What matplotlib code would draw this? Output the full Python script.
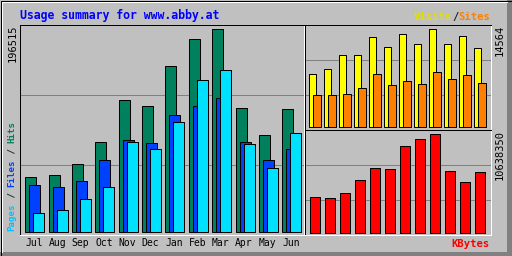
import matplotlib
matplotlib.use("Agg")
import matplotlib.pyplot as plt
from matplotlib.patches import Rectangle

# Дані
months = ["Jul", "Aug", "Sep", "Oct", "Nov", "Dec", "Jan", "Feb", "Mar", "Apr", "May", "Jun"]
hits = [53380, 55310, 65950, 87220, 128130, 122040, 160720, 186820, 196515, 120100, 93990, 119130]
files = [45640, 44290, 49510, 69820, 89160, 86260, 113330, 122040, 129770, 87220, 69820, 80450]
pages = [18570, 21470, 32100, 43710, 87220, 80450, 106560, 147180, 156850, 85290, 62080, 95930]
visits = [7890, 8631, 10707, 10707, 13377, 11894, 13822, 12339, 14564, 12339, 13525, 11745]
sites = [4775, 4775, 4924, 5813, 7890, 6258, 6851, 6407, 8186, 7148, 7741, 6555]
kbytes = [3834000, 3726000, 4266000, 5670000, 6966000, 6858000, 9342000, 10098000,
          10638350, 6642000, 5454000, 6534000]

W, H = 512, 256
LW = 0.72  # 1 px
BG = "#c0c0c0"
MONO = "DejaVu Sans Mono"

fig = plt.figure(figsize=(W / 100, H / 100), dpi=100, facecolor=BG)

# фон з рамкою, координати в пікселях
bg = fig.add_axes([0, 0, 1, 1])
bg.set_xlim(0, W)
bg.set_ylim(H, 0)
bg.axis("off")
bg.add_patch(Rectangle((0, 0), W, H, facecolor=BG, edgecolor="none"))
bg.add_patch(Rectangle((W - 5, 0), 5, H, facecolor="#808080", edgecolor="none"))
bg.add_patch(Rectangle((0, H - 4), W, 4, facecolor="#808080", edgecolor="none"))
bg.plot([1.5, W - 5], [1.5, 1.5], color="white", lw=LW)
bg.plot([1.5, 1.5], [1.5, H - 4], color="white", lw=LW)
bg.add_patch(Rectangle((0.5, 0.5), W - 1, H - 1, facecolor="none", edgecolor="black", lw=LW))


def panel(x0, y0, x1, y1):
    ax = fig.add_axes([x0 / W, 1 - y1 / H, (x1 - x0) / W, (y1 - y0) / H])
    ax.set_facecolor(BG)
    for s in ["left", "top"]:
        ax.spines[s].set_color("black")
    for s in ["right", "bottom"]:
        ax.spines[s].set_color("white")
    for s in ax.spines.values():
        s.set_linewidth(LW)
    ax.set_xticks([])
    ax.set_yticks([])
    for f in (1 / 3, 2 / 3):
        ax.plot([0, 1], [f, f], transform=ax.transAxes, color="#808080", lw=LW, zorder=0.5)
    return ax


idx = list(range(len(months)))

# головна панель: Hits / Files / Pages
sp = 23.36
ax = panel(20, 25, 304, 234.5)
c0 = 14.8
ax.set_xlim(-c0 / sp, (284 - c0) / sp)
ax.set_ylim(-1934, 200650)
ax.bar([i - 9.5 / sp for i in idx], hits, 11 / sp, align="edge", color="#00805c",
       edgecolor="black", lw=LW, zorder=2)
ax.bar([i - 5.5 / sp for i in idx], files, 11 / sp, align="edge", color="#0040ff",
       edgecolor="black", lw=LW, zorder=2)
ax.bar([i - 1.5 / sp for i in idx], pages, 11 / sp, align="edge", color="#00e0ff",
       edgecolor="black", lw=LW, zorder=2)

# Visits / Sites
sp2 = 15.0
ax2 = panel(305, 25, 491, 129.5)
ax2.set_xlim(-10 / sp2, (186 - 10) / sp2)
ax2.set_ylim(-297, 15200)
ax2.bar([i - 5.7 / sp2 for i in idx], visits, 7 / sp2, align="edge", color="#ffff00",
        edgecolor="black", lw=LW, zorder=2)
ax2.bar([i - 1.7 / sp2 for i in idx], sites, 7.2 / sp2, align="edge", color="#ff8000",
        edgecolor="black", lw=LW, zorder=2)

# KBytes
ax3 = panel(305, 130, 491, 234.5)
ax3.set_xlim(-10 / sp2, (186 - 10) / sp2)
ax3.set_ylim(-216000, 11070000)
ax3.bar([i - 4.7 / sp2 for i in idx], kbytes, 9.4 / sp2, align="edge", color="#ff0000",
        edgecolor="black", lw=LW, zorder=2)

# тексти
bg.text(20, 15.5, "Usage summary for www.abby.at", color="#0000ff", family=MONO,
        fontsize=8.3, fontweight="bold", ha="left", va="center")
for i, m in enumerate(months):
    bg.text(20 + c0 + i * sp - 1, 243, m, family=MONO, fontsize=7, ha="center", va="center")


def seg_h(x, y, parts, size):
    adv = 0.602 * size * 100 / 72
    k = 0
    for txt, col in parts:
        bg.text(x + k * adv, y, txt, color=col, family=MONO, fontsize=size,
                fontweight="bold", ha="left", va="center")
        k += len(txt)


def seg_v(x, y, parts, size):
    adv = 0.602 * size * 100 / 72
    k = 0
    for txt, col in parts:
        bg.text(x, y - k * adv, txt, color=col, family=MONO, fontsize=size,
                fontweight="bold", rotation=90, ha="center", va="bottom")
        k += len(txt)


seg_h(414, 17, [("Visits", "#e0e000"), ("/", "#202020"), ("Sites", "#ff8000")], 7.6)
bg.text(490, 244, "KBytes", color="#ff0000", family=MONO, fontsize=7.6, fontweight="bold",
        ha="right", va="center")
seg_v(12, 231, [("Pages", "#00c0ff"), (" / ", "#202020"), ("Files", "#0040ff"),
                (" / ", "#202020"), ("Hits", "#00805c")], 6.6)

bg.text(13, 25, "196515", family=MONO, fontsize=7.5, rotation=90, ha="center", va="top")
bg.text(500, 25, "14564", family=MONO, fontsize=7.5, rotation=90, ha="center", va="top")
bg.text(500, 130, "10638350", family=MONO, fontsize=7.5, rotation=90, ha="center", va="top")

fig.savefig("out.png", dpi=100, facecolor=BG)
